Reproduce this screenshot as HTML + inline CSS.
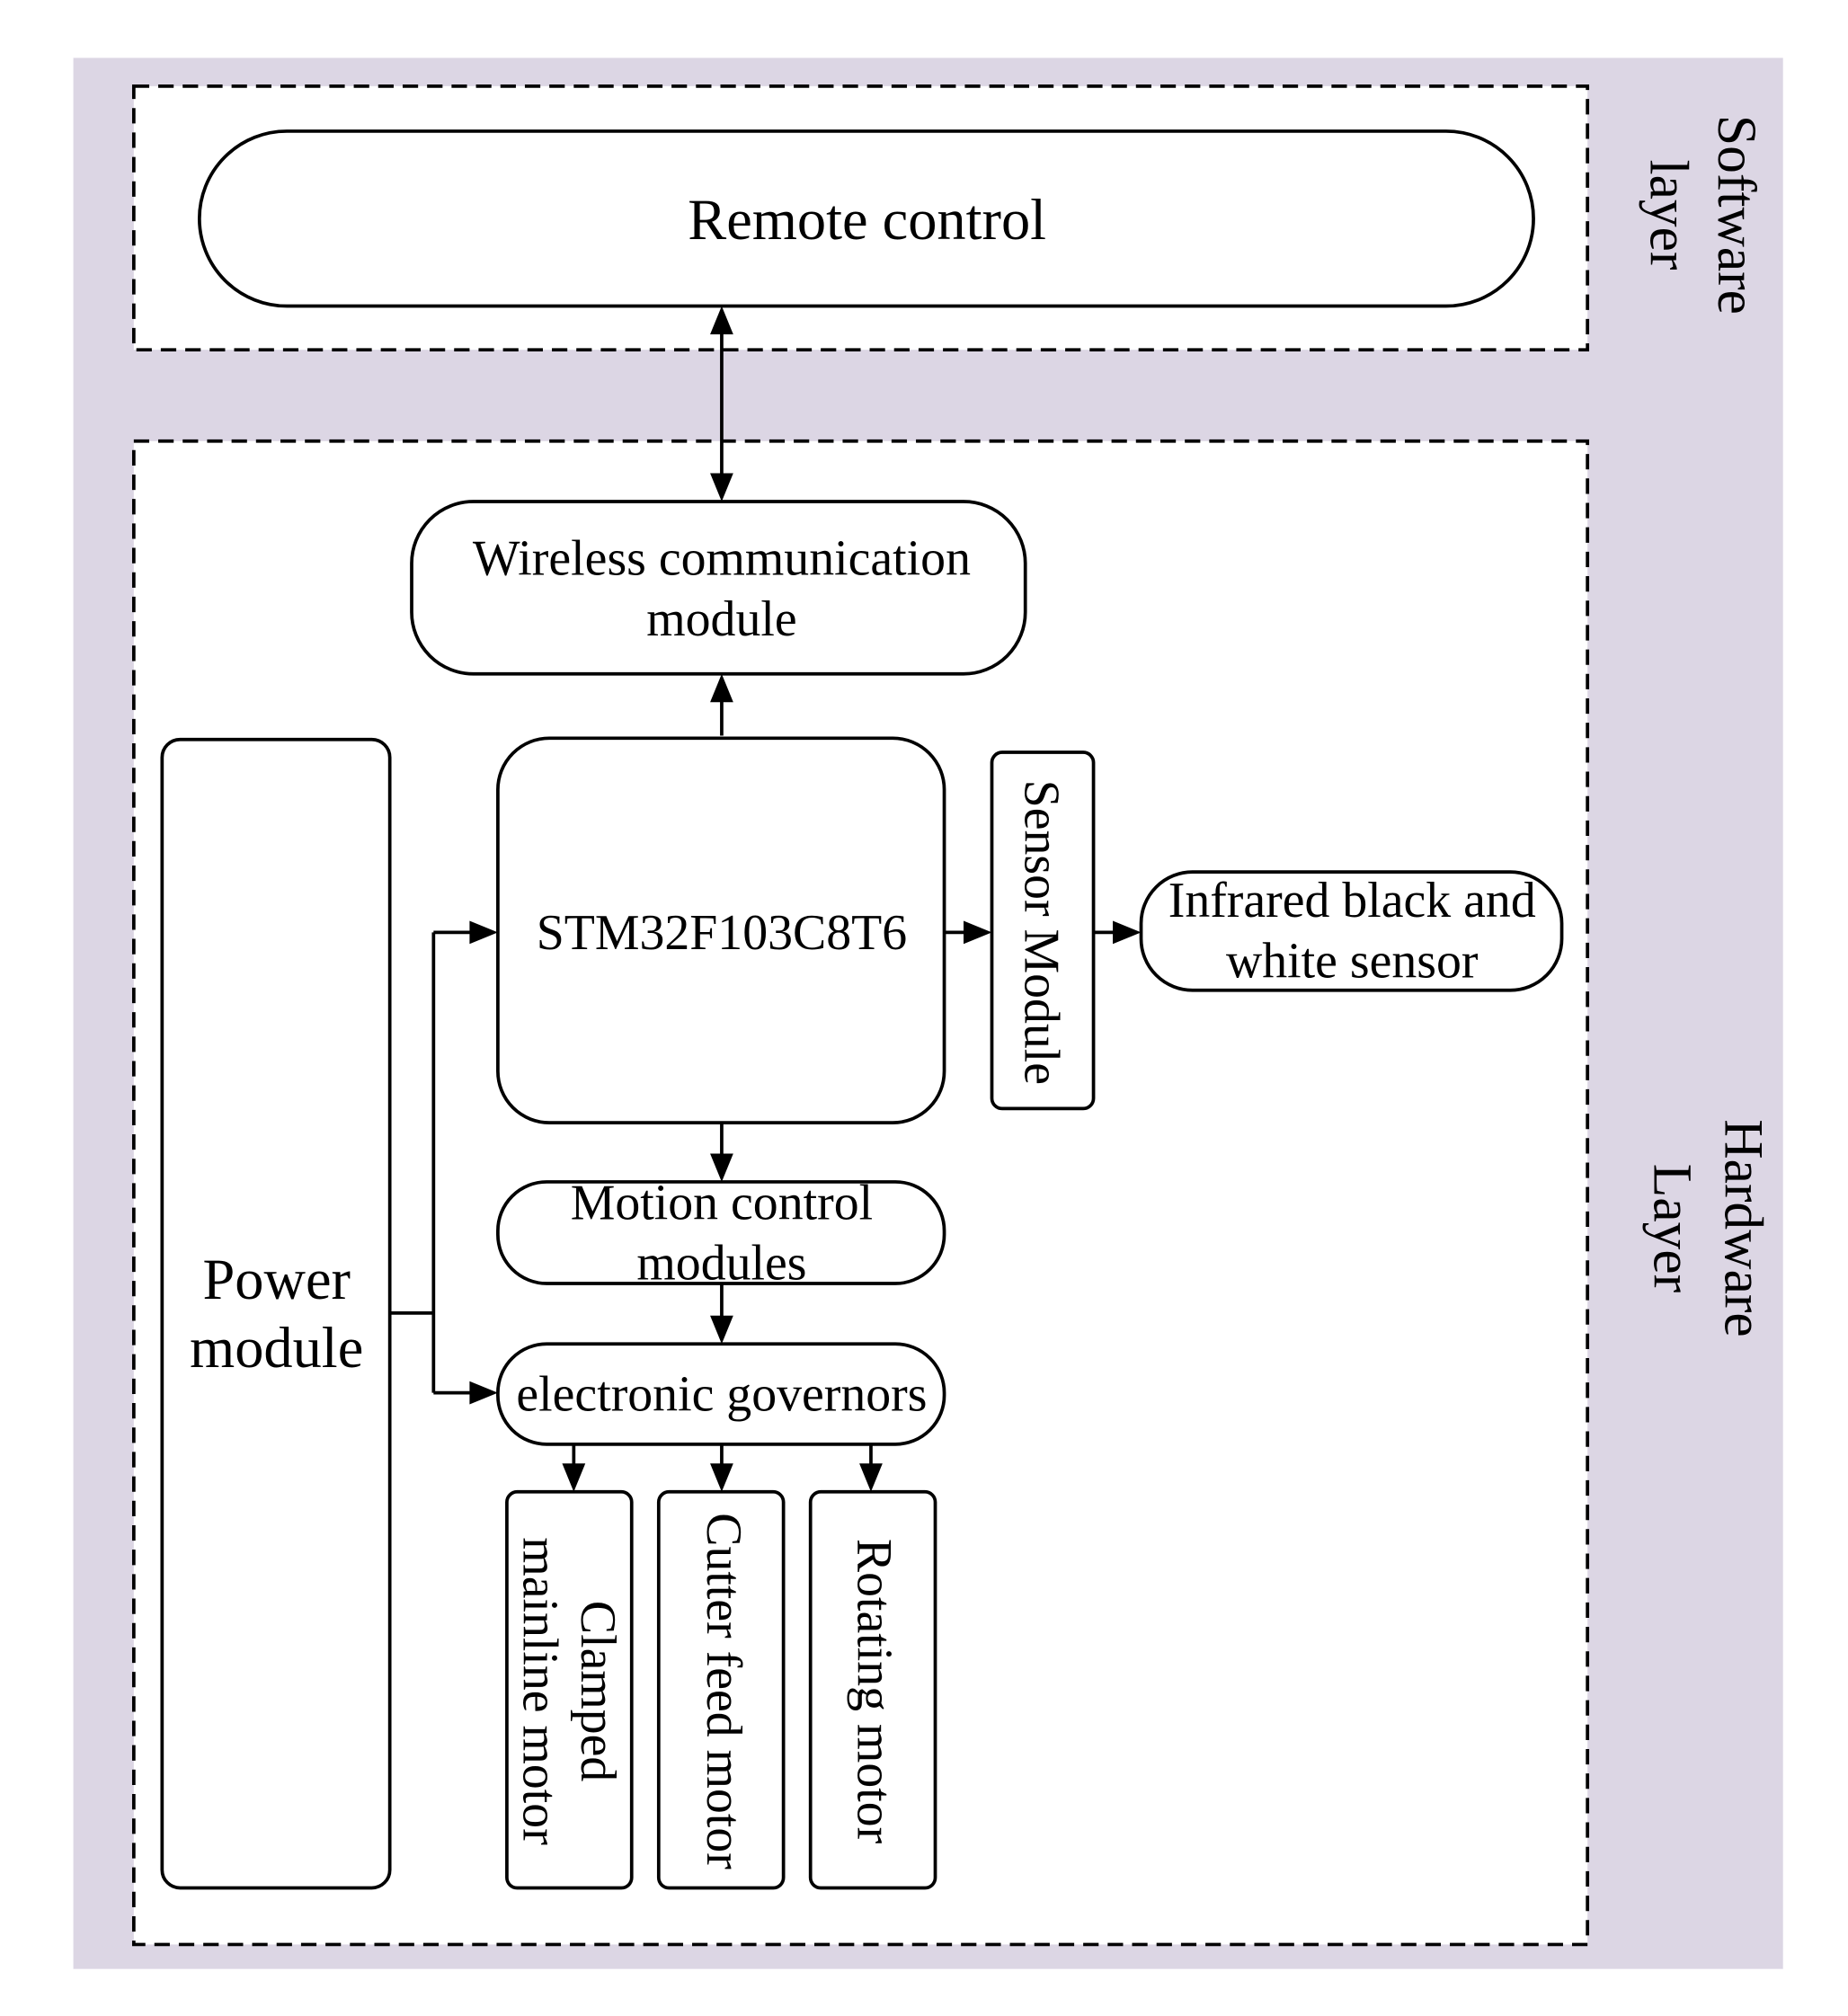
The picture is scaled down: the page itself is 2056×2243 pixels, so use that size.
<!DOCTYPE html>
<html><head><meta charset="utf-8"><style>html,body{margin:0;padding:0;background:#fff}svg{display:block}</style></head>
<body>
<svg width="2056" height="2243" viewBox="0 0 1436.5 1567.6" preserveAspectRatio="none" xmlns="http://www.w3.org/2000/svg" font-family="Liberation Serif, serif" fill="none" stroke="#000" stroke-width="2.6">
<rect x="57" y="45" width="1329" height="1486" fill="#dcd6e4" stroke="none"/>
<rect x="104" y="67" width="1130" height="205" fill="#fff" stroke-dasharray="12,7"/>
<rect x="104" y="343" width="1130" height="1169" fill="#fff" stroke-dasharray="12,7"/>
<rect x="155" y="102" width="1037" height="136" rx="68" fill="#fff"/>
<rect x="320" y="390" width="477" height="134" rx="48" fill="#fff"/>
<rect x="387" y="574" width="347" height="299" rx="40" fill="#fff"/>
<rect x="771" y="585" width="79" height="277" rx="8" fill="#fff"/>
<rect x="887" y="678" width="327" height="92" rx="40" fill="#fff"/>
<rect x="126" y="575" width="177" height="893" rx="14" fill="#fff"/>
<rect x="387" y="919" width="347" height="79" rx="38" fill="#fff"/>
<rect x="387" y="1045" width="347" height="78" rx="38" fill="#fff"/>
<rect x="394" y="1160" width="97" height="308" rx="8" fill="#fff"/>
<rect x="512" y="1160" width="97" height="308" rx="8" fill="#fff"/>
<rect x="630" y="1160" width="97" height="308" rx="8" fill="#fff"/>
<path d="M561 258 V370 M561 572 V544 M734 725 H752 M850 725 H868 M303 1021 H337 M337 725 V1083 M337 725 H368 M337 1083 H368 M561 873 V900 M561 998 V1026 M446 1123 V1141 M561 1123 V1141 M677 1123 V1141"/>
<g fill="#000" stroke="none">
<path d="M561 238 L552 260 L570 260 Z"/>
<path d="M561 390 L552 368 L570 368 Z"/>
<path d="M561 524 L552 546 L570 546 Z"/>
<path d="M771 725 L749 716 L749 734 Z"/>
<path d="M887 725 L865 716 L865 734 Z"/>
<path d="M387 725 L365 716 L365 734 Z"/>
<path d="M387 1083 L365 1074 L365 1092 Z"/>
<path d="M561 919 L552 897 L570 897 Z"/>
<path d="M561 1045 L552 1023 L570 1023 Z"/>
<path d="M446 1160 L437 1138 L455 1138 Z"/>
<path d="M561 1160 L552 1138 L570 1138 Z"/>
<path d="M677 1160 L668 1138 L686 1138 Z"/>
</g>
<g fill="#000" stroke="none" text-anchor="middle" font-size="39">
<text x="674" y="186" font-size="45">Remote control</text>
<text x="561" y="447">Wireless communication</text>
<text x="561" y="494">module</text>
<text x="561" y="738">STM32F103C8T6</text>
<text x="1051" y="713">Infrared black and</text>
<text x="1051" y="760">white sensor</text>
<text x="561" y="948">Motion control</text>
<text x="561" y="995">modules</text>
<text x="561" y="1097">electronic governors</text>
<text x="215" y="1010" font-size="45">Power</text>
<text x="215" y="1063" font-size="45">module</text>
<text transform="translate(810,725) rotate(90)" dy="13">Sensor Module</text>
<text transform="translate(465,1315) rotate(90)" dy="13">Clamped</text>
<text transform="translate(420,1315) rotate(90)" dy="13">mainline motor</text>
<text transform="translate(563,1315) rotate(90)" dy="13">Cutter feed motor</text>
<text transform="translate(680,1315) rotate(90)" dy="13">Rotating motor</text>
<text transform="translate(1350,167) rotate(90)" dy="14" font-size="43">Software</text>
<text transform="translate(1297,167) rotate(90)" dy="14" font-size="43">layer</text>
<text transform="translate(1355,955) rotate(90)" dy="14" font-size="43">Hardware</text>
<text transform="translate(1300,955) rotate(90)" dy="14" font-size="43">Layer</text>
</g>
</svg>
</body></html>
